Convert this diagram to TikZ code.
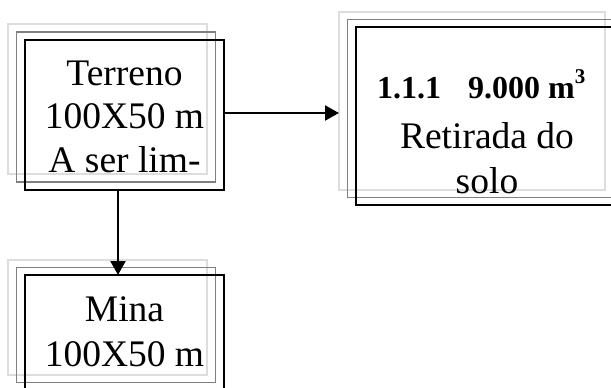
\documentclass[tikz,border=0pt]{standalone}
\usepackage{fontspec}
\setmainfont{Liberation Serif}
\usetikzlibrary{arrows.meta}
\definecolor{lightline}{HTML}{DDDDDD}
\definecolor{midline}{HTML}{808080}
\begin{document}
\begin{tikzpicture}[x=1pt,y=-1pt,
  layer/.style={draw=#1, line width=1.6pt, inner sep=0pt, outer sep=0pt, anchor=north west},
  smallbox/.style={minimum width=199pt, minimum height=150pt},
  widebox/.style={minimum width=266pt, minimum height=178pt},
  minebox/.style={minimum width=199pt, minimum height=115pt},
  label/.style={align=center, inner sep=0pt, anchor=base, font=\fontsize{37.5}{43.5}\selectfont},
  conn/.style={line width=2.2pt, -{Triangle[length=14pt,width=15pt]}}
]
\useasboundingbox (0,0) rectangle (611,388);
\clip (0,0) rectangle (611,388);
\fill[white] (0,0) rectangle (611,388);
% Terreno
\node[layer=lightline, smallbox] (tL) at (8,24) {};
\node[layer=midline, smallbox] (tM) at (16.5,32) {};
\node[layer=black, smallbox] (tB) at (25,40) {};
\node[label] (tT) at (124.5,172) {Terreno\\100X50 m\\A ser lim-};
% Retirada
\node[layer=lightline, widebox] (rL) at (339,12) {};
\node[layer=midline, widebox] (rM) at (347.5,19.5) {};
\node[layer=black, widebox] (rB) at (356,27) {};
\node[inner sep=0pt, anchor=base west, font=\fontsize{32}{38}\selectfont\bfseries] (rH) at (377,98.5) {1.1.1\hspace{27pt}9.000 m\raisebox{15.5pt}{\fontsize{21}{21}\selectfont 3}};
\node[label, font=\fontsize{37.5}{45}\selectfont] (rT) at (487,193) {Retirada do\\solo};
% Mina
\node[layer=lightline, minebox] (mL) at (8,260) {};
\node[layer=midline, minebox] (mM) at (16.5,267.5) {};
\node[layer=black, minebox] (mB) at (25,275) {};
\node[label, font=\fontsize{37.5}{45}\selectfont] (mT) at (124.5,366) {Mina\\100X50 m};
% connectors
\coordinate (vx) at (118,0);
\draw[conn] ([yshift=2pt]tB.east) -- ([yshift=2pt]tB.east -| rL.west);
\draw[conn] (tB.south -| vx) -- (mB.north -| vx);
\end{tikzpicture}
\end{document}
